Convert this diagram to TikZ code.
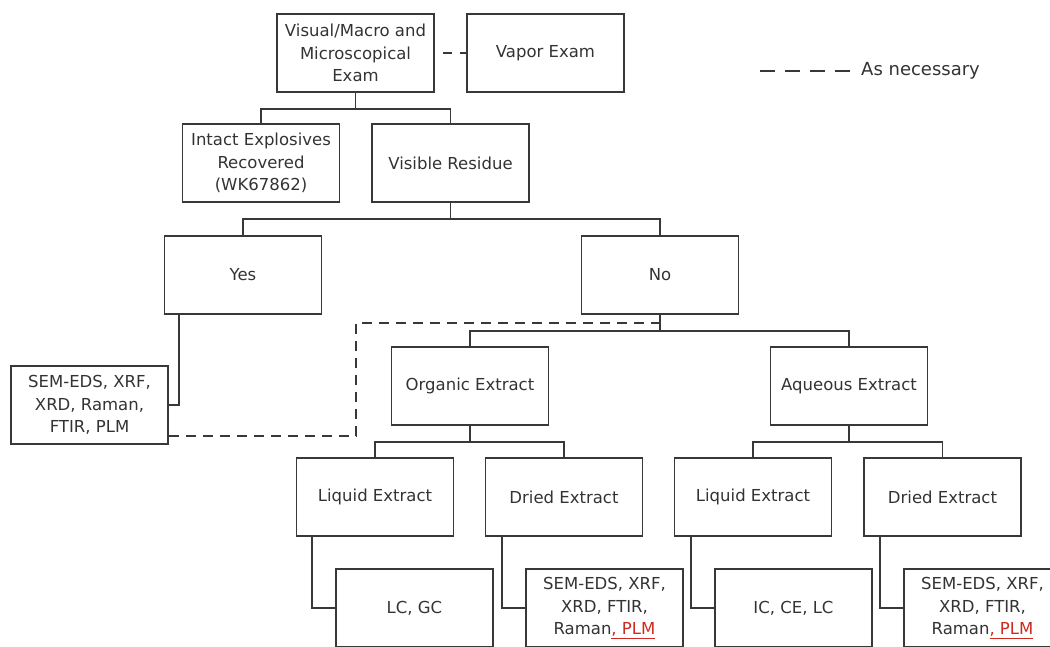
\documentclass[tikz,border=0pt]{standalone}
\usepackage{fontspec}
\setmainfont{DejaVu Sans}
\definecolor{txt}{HTML}{333333}
\definecolor{ln}{HTML}{383838}
\definecolor{plmred}{HTML}{D0281E}
\newcommand{\plm}{\textcolor{plmred}{\underline{, PLM}}}
\begin{document}
\begin{tikzpicture}[x=1pt,y=-1pt,
  box/.style={draw=ln, line width=1.8pt, minimum width=157pt, minimum height=78pt,
    align=center, text=txt, inner sep=2pt, font=\fontsize{16.5}{22.5}\selectfont},
  link/.style={draw=ln, line width=1.8pt},
  dlink/.style={draw=ln, line width=1.8pt, dash pattern=on 10pt off 7pt},
  every node/.style={text=txt}]
\useasboundingbox (0,0) rectangle (1050,646);
\clip (0,0) rectangle (1050,646);
\node[box] (vis) at (355.5,53) {Visual/Macro and\\Microscopical\\Exam};
\node[box] (vap) at (545.5,53) {Vapor Exam};
\node[box] (int) at (261,163) {Intact Explosives\\Recovered\\(WK67862)};
\node[box] (vr) at (450.5,163) {Visible Residue};
\node[box] (yes) at (243,275) {Yes};
\node[box] (no) at (660,275) {No};
\node[box] (sem) at (89.5,405) {SEM-EDS, XRF,\\XRD, Raman,\\FTIR, PLM};
\node[box] (org) at (470,386) {Organic Extract};
\node[box] (aq) at (849,386) {Aqueous Extract};
\node[box] (liq1) at (375,497) {Liquid Extract};
\node[box] (dri1) at (564,497) {Dried Extract};
\node[box] (liq2) at (753,497) {Liquid Extract};
\node[box] (dri2) at (942.5,497) {Dried Extract};
\node[box] (lc) at (414.5,608) {LC, GC};
\node[box] (sem2) at (604.5,608) {SEM-EDS, XRF,\\XRD, FTIR,\\Raman\plm};
\node[box] (ic) at (793.5,608) {IC, CE, LC};
\node[box] (sem3) at (982.5,608) {SEM-EDS, XRF,\\XRD, FTIR,\\Raman\plm};
% legend
\coordinate (leg0) at (760,71);
\node[anchor=west, inner sep=0pt, font=\fontsize{18}{20}\selectfont] (leg) at (861,71) {As necessary};
\draw[draw=ln, line width=1.8pt, dash pattern=on 15pt off 10pt] (leg0) -- ([xshift=-8pt]leg.west);
% connectors
\draw[dlink, dash pattern=on 9pt off 8pt, dash phase=-8pt] (vis.east) -- (vap.west);
\draw[link] (vis.south) -- ++(0,16) coordinate (j1);
\draw[link] (j1) -| (int.north);
\draw[link] (j1) -| (vr.north);
\draw[link] (vr.south) -- ++(0,16) coordinate (j2);
\draw[link] (j2) -| (yes.north);
\draw[link] (j2) -| (no.north);
\draw[link] ([xshift=15pt]yes.south west) |- (sem.east);
\coordinate (d1) at (356,323);
\draw[dlink] ([yshift=9pt]sem.south east) -| (d1) -- (d1 -| no.south);
\draw[link] (no.south) -- ++(0,16) coordinate (j3);
\draw[link] (j3) -| (org.north);
\draw[link] (j3) -| (aq.north);
\draw[link] (org.south) -- ++(0,16) coordinate (j4);
\draw[link] (j4) -| (liq1.north);
\draw[link] (j4) -| (dri1.north);
\draw[link] (aq.south) -- ++(0,16) coordinate (j5);
\draw[link] (j5) -| (liq2.north);
\draw[link] (j5) -| (dri2.north);
\draw[link] ([xshift=16pt]liq1.south west) |- (lc.west);
\draw[link] ([xshift=17pt]dri1.south west) |- (sem2.west);
\draw[link] ([xshift=17pt]liq2.south west) |- (ic.west);
\draw[link] ([xshift=17pt]dri2.south west) |- (sem3.west);
\end{tikzpicture}
\end{document}
